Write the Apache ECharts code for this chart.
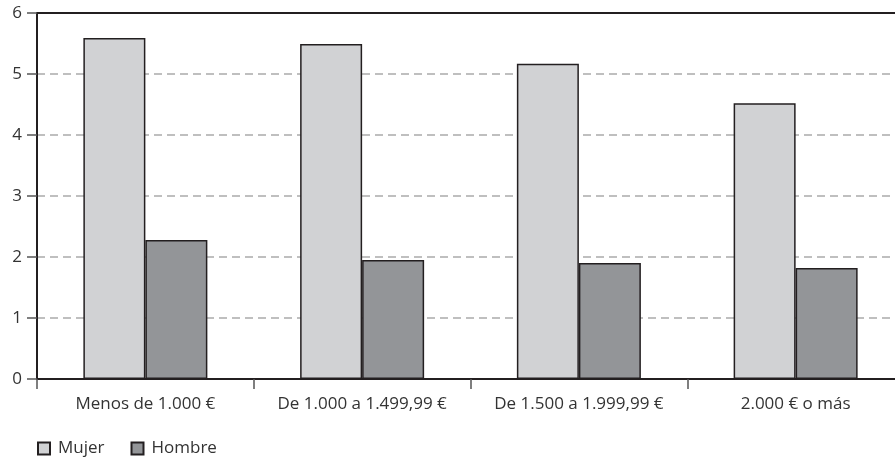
<!DOCTYPE html>
<html><head><meta charset="utf-8">
<script src="https://cdn.jsdelivr.net/npm/echarts@6/dist/echarts.min.js"></script>
<style>html,body{margin:0;padding:0;background:#fff}#c{width:895px;height:466px}</style>
</head><body><div id="c"></div>
<script>
const categories = ['Menos de 1.000 €', 'De 1.000 a 1.499,99 €', 'De 1.500 a 1.999,99 €', '2.000 € o más'];
const mujer = [5.59, 5.49, 5.17, 4.52];
const hombre = [2.28, 1.95, 1.90, 1.82];
const seriesNames = ['Mujer', 'Hombre'];
const yTicks = [0, 1, 2, 3, 4, 5, 6];

const font = '"Open Sans", sans-serif';
const chart = echarts.init(document.getElementById('c'));
chart.setOption({
  animation: false,
  textStyle: { fontFamily: font },
  grid: { left: 37, top: 13, width: 867, height: 366, show: false, outerBoundsMode: 'none', containLabel: false },
  legend: {
    left: 32, top: 435, itemWidth: 12, itemHeight: 12, itemGap: 26,
    icon: 'rect',
    textStyle: { fontFamily: font, fontSize: 17, color: '#333', padding: [0, 0, 0, 3] },
    data: seriesNames
  },
  xAxis: [{
    type: 'category', data: categories,
    axisLine: { lineStyle: { color: '#231f20', width: 2 } },
    axisTick: { show: true, length: 10, lineStyle: { color: '#555', width: 1.5 } },
    axisLabel: { fontFamily: font, fontSize: 17, color: '#333', margin: 17, interval: 0, hideOverlap: false }
  }, {
    type: 'category', data: categories, position: 'top',
    axisLine: { show: true, lineStyle: { color: '#231f20', width: 2 } },
    axisTick: { show: false }, axisLabel: { show: false }, splitLine: { show: false }
  }],
  yAxis: {
    type: 'value', min: yTicks[0], max: yTicks[yTicks.length - 1], interval: 1,
    axisLine: { show: true, lineStyle: { color: '#231f20', width: 2 } },
    axisTick: { show: true, length: 10, lineStyle: { color: '#555', width: 1.5 } },
    axisLabel: { fontFamily: font, fontSize: 17, color: '#333', margin: 15 },
    splitLine: { show: true, showMinLine: false, showMaxLine: false, lineStyle: { color: '#aaa', type: [8, 5], width: 1.5 } }
  },
  series: [
    { name: seriesNames[0], type: 'bar', data: mujer, barWidth: 62, barGap: '0%',
      itemStyle: { color: '#d1d2d4', borderColor: '#231f20', borderWidth: 1.5 } },
    { name: seriesNames[1], type: 'bar', data: hombre, barWidth: 62, barGap: '0%',
      itemStyle: { color: '#939598', borderColor: '#231f20', borderWidth: 1.5 } }
  ]
});
</script></body></html>
